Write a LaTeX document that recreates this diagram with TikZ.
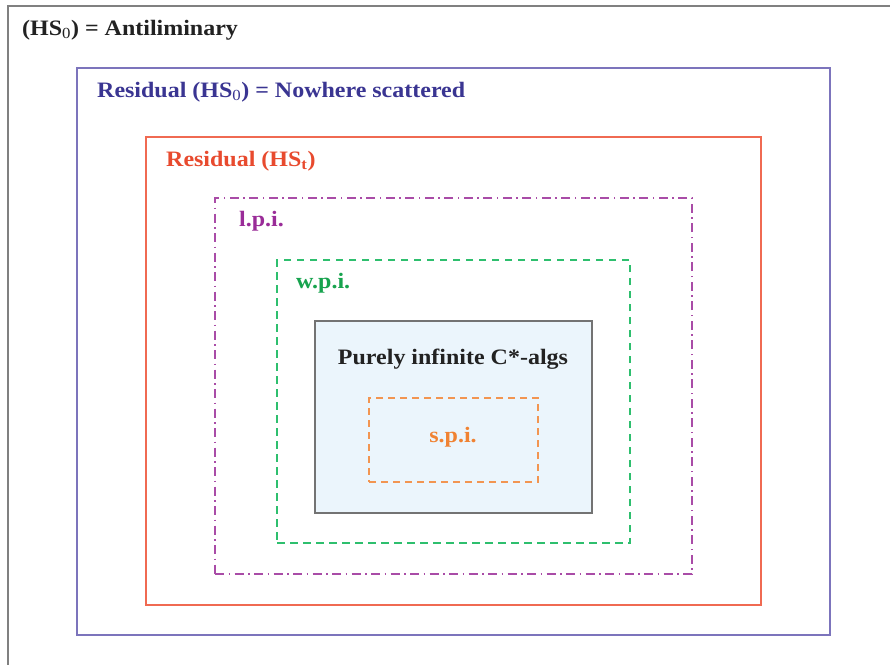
\documentclass[tikz,border=0pt]{standalone}
\usepackage{fontspec}
\setmainfont[FakeStretch=1.09]{Liberation Serif}
\definecolor{cgray}{HTML}{808080}
\definecolor{cblueT}{HTML}{3A3592}
\definecolor{cblueL}{HTML}{7C74BC}
\definecolor{credT}{HTML}{E84A2E}
\definecolor{credL}{HTML}{F06A52}
\definecolor{cpurp}{HTML}{9A2C98}
\definecolor{cgreenT}{HTML}{17A34E}
\definecolor{cgreenL}{HTML}{2EBF6E}
\definecolor{corange}{HTML}{F08232}
\definecolor{cfill}{HTML}{EBF5FC}
\definecolor{cdark}{HTML}{222222}
\newcommand{\zsub}{\textsubscript{\mdseries 0}}
\tikzset{
  box/.style={anchor=north west, inner sep=0pt, outer sep=0pt},
  lbl/.style={anchor=base west, inner sep=0pt, font=\fontsize{22}{26}\selectfont\bfseries},
  clbl/.style={anchor=base, inner sep=0pt, font=\fontsize{22}{26}\selectfont\bfseries},
}
\begin{document}
\begin{tikzpicture}[x=1pt,y=-1pt]
\clip (0,0) rectangle (890,664);
\fill[white] (0,0) rectangle (890,664);
% outer gray (cropped)
\node[box, draw=cgray, line width=1.5pt, minimum width=900pt, minimum height=700pt] (outer) at (8,6) {};
\node[lbl, text=cdark] (outerlbl) at (22,35) {(HS\zsub) = Antiliminary};
% blue
\node[box, draw=cblueL, line width=1.3pt, minimum width=753pt, minimum height=567pt] (blue) at (77,68) {};
\node[lbl, text=cblueT] (bluelbl) at (97,97) {Residual (HS\zsub) = Nowhere scattered};
% red
\node[box, draw=credL, line width=1.2pt, minimum width=615pt, minimum height=468pt] (red) at (146,137) {};
\node[lbl, text=credT] (redlbl) at (166,166) {Residual (HS\textsubscript{t})};
% purple dash-dot
\node[box, draw=cpurp!85, line width=1.1pt, dash pattern=on 9pt off 4.5pt on 1.5pt off 4.5pt, minimum width=477pt, minimum height=376pt] (lpi) at (215,198) {};
\node[lbl, text=cpurp] (lpilbl) at (239,226) {l.p.i.};
% green dashed
\node[box, draw=cgreenL, line width=1.1pt, dash pattern=on 7.5pt off 5.5pt, minimum width=353pt, minimum height=283pt] (wpi) at (277,260) {};
\node[lbl, text=cgreenT] (wpilbl) at (296,288) {w.p.i.};
% purely infinite
\node[box, draw=cgray!90!black, fill=cfill, line width=1.2pt, minimum width=277pt, minimum height=192pt] (pi) at (315,321) {};
\node[clbl, text=cdark] (pilbl) at (453,364) {Purely infinite C*-algs};
% orange dashed
\node[box, draw=corange!85, line width=1.1pt, dash pattern=on 7pt off 5pt, minimum width=169pt, minimum height=84pt] (spi) at (369,398) {};
\node[clbl, text=corange] (spilbl) at (453,442) {s.p.i.};
\end{tikzpicture}
\end{document}
